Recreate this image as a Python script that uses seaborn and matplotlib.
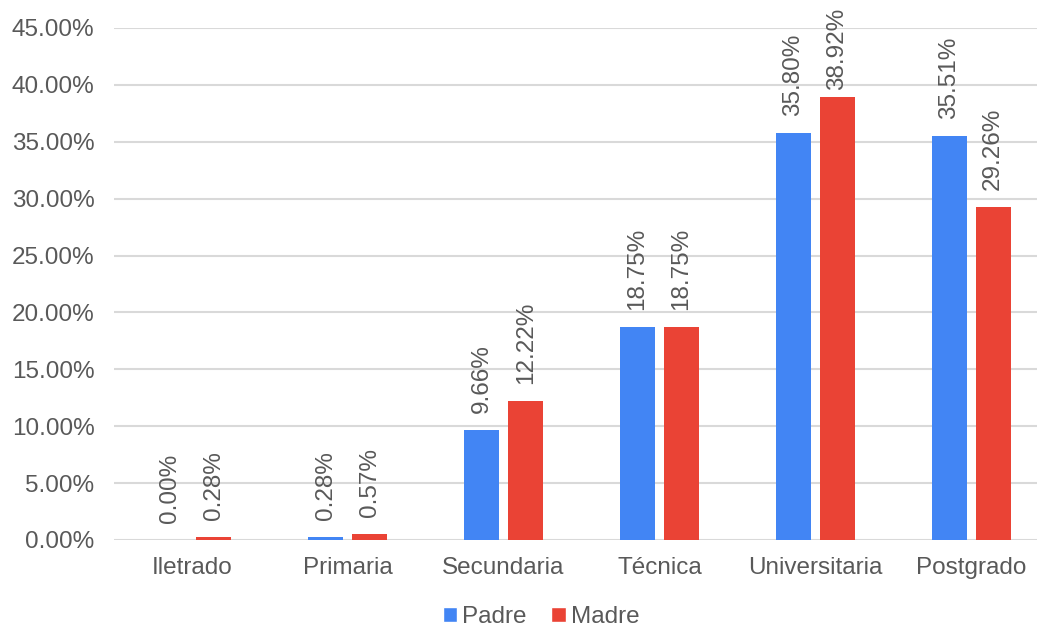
import matplotlib
matplotlib.use("Agg")
import matplotlib.pyplot as plt
import seaborn as sns
import pandas as pd
from matplotlib.ticker import PercentFormatter
from matplotlib.patches import Patch

categories = ["Iletrado", "Primaria", "Secundaria", "Técnica", "Universitaria", "Postgrado"]
padre = [0.00, 0.28, 9.66, 18.75, 35.80, 35.51]
madre = [0.28, 0.57, 12.22, 18.75, 38.92, 29.26]
series = ["Padre", "Madre"]
colors = ["#4285F4", "#EA4335"]

df = pd.DataFrame({
    "Nivel": categories * 2,
    "Serie": [series[0]] * len(categories) + [series[1]] * len(categories),
    "Valor": padre + madre,
})

sns.set_theme(style="white")
plt.rcParams["font.family"] = ["Liberation Sans", "DejaVu Sans"]
text_color = "#595959"
fs = 17.5

fig = plt.figure(figsize=(10.37, 6.28), dpi=100)
ax = fig.add_axes([114 / 1037, 88 / 628, 935 / 1037, 512 / 628])

sns.barplot(data=df, x="Nivel", y="Valor", hue="Serie", palette=colors,
            dodge=True, ax=ax, legend=False, saturation=1, linewidth=0)

# narrow bars with a small gap between the pair in each group
bar_w = 0.225
gap = 0.058
for i, cont in enumerate(ax.containers):
    values = padre if i == 0 else madre
    for j, bar in enumerate(cont):
        bar.set_width(bar_w)
        if i == 0:
            bar.set_x(j - gap / 2 - bar_w)
        else:
            bar.set_x(j + gap / 2)
    labels = [f"{v:.2f}%" for v in values]
    texts = ax.bar_label(cont, labels=labels, rotation=90, padding=12,
                         fontsize=fs, color=text_color, clip_on=False)
    # keep the tallest labels inside the top edge of the figure
    for t, v in zip(texts, values):
        if v > 38:
            t.xyann = (t.xyann[0], 5)

ax.set_xlim(-0.5, 5.5)
ax.set_ylim(0, 45)
ax.set_yticks(range(0, 46, 5))
ax.yaxis.set_major_formatter(PercentFormatter(decimals=2))
ax.grid(axis="y", color="#D9D9D9", linewidth=1.5)
ax.set_axisbelow(True)
for s in ax.spines.values():
    s.set_visible(False)
ax.set_xlabel("")
ax.set_ylabel("")
ax.tick_params(axis="both", length=0, labelsize=fs, colors=text_color)
ax.tick_params(axis="x", pad=12)
ax.tick_params(axis="y", pad=14)

handles = [Patch(facecolor=c, label=s) for c, s in zip(colors, series)]
fig.legend(handles=handles, loc="center", bbox_to_anchor=(541 / 1037, 1 - 617 / 628),
           ncol=2, frameon=False, fontsize=fs, handlelength=0.6, handleheight=0.6,
           handletextpad=0.2, columnspacing=1.0, labelcolor=text_color)

fig.savefig("out.png", dpi=100)
